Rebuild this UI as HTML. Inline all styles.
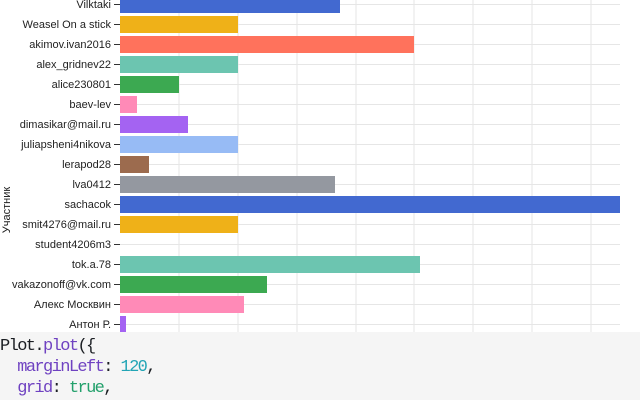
<!DOCTYPE html>
<html><head><meta charset="utf-8"><style>
body{margin:0;width:640px;height:400px;overflow:hidden;background:#fff;font-family:"Liberation Sans","Noto Sans CJK SC",sans-serif}
.code{position:absolute;left:0;top:332px;width:640px;height:68px;background:#f5f5f5;font-family:"Liberation Mono",monospace;font-size:17px;line-height:21px;color:#1b1e23;padding-top:4px;box-sizing:border-box;letter-spacing:-1.6px}
.code div{white-space:pre}
.f{color:#6f42c1}.n{color:#22a5b5}.t{color:#22a06b}
</style></head><body>
<svg width="640" height="332" style="position:absolute;left:0;top:0" font-family="Liberation Sans, Noto Sans CJK SC, sans-serif" font-size="11">
<g stroke="#e6e6e6" stroke-width="1">
<line x1="179" y1="0" x2="179" y2="332"/><line x1="238" y1="0" x2="238" y2="332"/><line x1="297" y1="0" x2="297" y2="332"/><line x1="356" y1="0" x2="356" y2="332"/><line x1="414" y1="0" x2="414" y2="332"/><line x1="473" y1="0" x2="473" y2="332"/><line x1="532" y1="0" x2="532" y2="332"/><line x1="591" y1="0" x2="591" y2="332"/>
</g>
<g id="rows"></g>
<text transform="translate(10,210) rotate(-90)" text-anchor="middle" fill="#222">Участник</text>
</svg>
<div class="code">
<div>Plot.<span class="f">plot</span>({</div>
<div>  <span class="f">marginLeft</span>: <span class="n">120</span>,</div>
<div>  <span class="f">grid</span>: <span class="t">true</span>,</div>
</div>
<script>
var d=[["Vilktaki",340,"#4269d0"],["Weasel On a stick",238,"#efb118"],["akimov.ivan2016",414,"#ff725c"],["alex_gridnev22",238,"#6cc5b0"],["alice230801",179,"#3ca951"],["baev-lev",137,"#ff8ab7"],["dimasikar@mail.ru",188,"#a463f2"],["juliapsheni4nikova",238,"#97bbf5"],["lerapod28",149,"#9c6b4e"],["lva0412",335,"#9498a0"],["sachacok",620,"#4269d0"],["smit4276@mail.ru",238,"#efb118"],["student4206m3",120,"#ff725c"],["tok.a.78",420,"#6cc5b0"],["vakazonoff@vk.com",267,"#3ca951"],["Алекс Москвин",244,"#ff8ab7"],["Антон Р.",126,"#a463f2"]];
var s="";d.forEach(function(r,i){var c=4+i*20;
s+='<line x1="120" x2="620" y1="'+(c+0.5)+'" y2="'+(c+0.5)+'" stroke="#e6e6e6"/>';
if(r[1]>120)s+='<rect x="120" y="'+(c-8)+'" width="'+(r[1]-120)+'" height="17" fill="'+r[2]+'"/>';
s+='<line x1="114" x2="120" y1="'+(c+0.5)+'" y2="'+(c+0.5)+'" stroke="#333"/>';
s+='<text x="111" y="'+(c+4)+'" text-anchor="end" fill="#222">'+r[0]+'</text>';});
document.getElementById("rows").innerHTML=s;
</script>
</body></html>
